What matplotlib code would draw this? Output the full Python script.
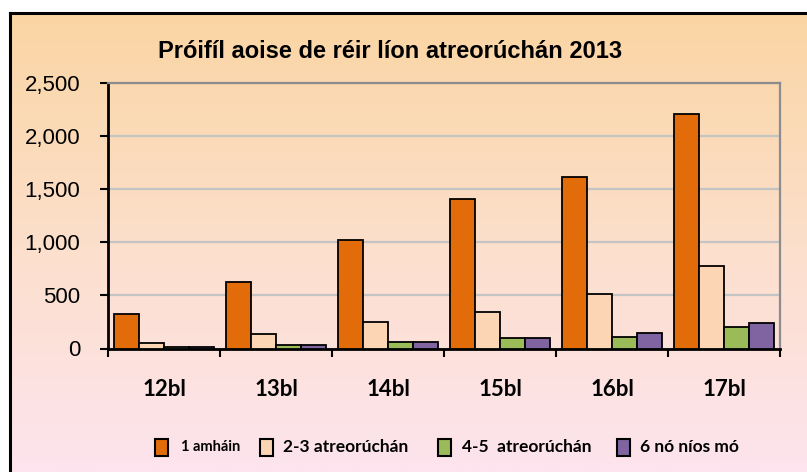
import matplotlib
matplotlib.use("Agg")
import matplotlib.pyplot as plt
import numpy as np
from matplotlib.patches import Rectangle
from matplotlib.colors import LinearSegmentedColormap

# ---- data ----
categories = ["12bl", "13bl", "14bl", "15bl", "16bl", "17bl"]
series_names = ["1 amháin", "2-3 atreorúchán", "4-5  atreorúchán", "6 nó níos mó"]
one_only = [325, 630, 1020, 1405, 1612, 2210]
two_three = [55, 132, 250, 348, 510, 779]
four_five = [15, 37, 57, 95, 107, 200]
six_plus = [14, 33, 57, 95, 146, 244]
yticks = [0, 500, 1000, 1500, 2000, 2500]
ytick_labels = ["0", "500", "1,000", "1,500", "2,000", "2,500"]
title = "Próifíl aoise de réir líon atreorúchán 2013"

colors = ["#E36C0A", "#FCD5B5", "#9BBB59", "#8064A2"]
series = [one_only, two_three, four_five, six_plus]

W, H = 807, 472
fig = plt.figure(figsize=(W / 100, H / 100), dpi=100)
fig.patch.set_facecolor("white")

def fx(px):
    return px / W

def fy(py):
    return 1 - py / H

# gradient background inside frame
bg = fig.add_axes([fx(10), 0, 1 - fx(10), fy(13)], zorder=0)
cmap = LinearSegmentedColormap.from_list("g", ["#FAD5A3", "#FCDFCB", "#FDE4EE"])
grad = np.linspace(0, 1, 256).reshape(-1, 1)
bg.imshow(grad, aspect="auto", cmap=cmap, extent=[0, 1, 0, 1], origin="upper")
bg.set_axis_off()

# frame lines (top, left)
fig.add_artist(plt.Line2D([fx(10), 1], [fy(13), fy(13)], color="black", lw=2.2, zorder=5))
fig.add_artist(plt.Line2D([fx(10), fx(10)], [0, fy(13)], color="black", lw=2.2, zorder=5))

# main axes
left, right, top, bottom = 108, 780, 83, 348.5
ax = fig.add_axes([fx(left), fy(bottom), fx(right - left), (bottom - top) / H], zorder=2)
ax.set_facecolor("none")

x = np.arange(len(categories))
bw = 0.225
offsets = (np.arange(4) - 1.5) * bw
for i, (vals, c) in enumerate(zip(series, colors)):
    ax.bar(x + offsets[i], vals, width=bw, color=c, edgecolor="black",
           linewidth=1.3, zorder=3, label=series_names[i])

ax.set_xlim(-0.5, len(categories) - 0.5)
ax.set_ylim(0, 2500)
ax.set_yticks(yticks)
ax.set_yticklabels(ytick_labels, fontfamily="Liberation Sans", fontsize=16)
ax.yaxis.grid(True, color="#C4C4C4", linewidth=1.6, zorder=0)
ax.set_axisbelow(True)

ax.set_xticks(np.arange(len(categories) + 1) - 0.5)
ax.set_xticklabels([])
ax.set_xticks(x, minor=True)
ax.set_xticklabels(categories, minor=True, fontfamily="Lato",
                   fontweight="bold", fontsize=16)
ax.tick_params(axis="x", which="minor", length=0, pad=22)
ax.tick_params(axis="x", which="major", length=6, width=1.5, direction="out")
ax.tick_params(axis="y", length=6, width=1.5, direction="out", pad=14)

for s in ["left", "bottom"]:
    ax.spines[s].set_color("black")
    ax.spines[s].set_linewidth(2)
for s in ["top", "right"]:
    ax.spines[s].set_color("#8C8C8C")
    ax.spines[s].set_linewidth(1.6)

fig.text(fx(390), fy(51), title, ha="center", va="center",
         fontfamily="Liberation Sans", fontweight="bold", fontsize=17, zorder=6)

# legend (manual)
legend_items = [
    (155, 181, 10.5),
    (260, 283, 12.5),
    (438, 462, 12.5),
    (617, 640, 12.5),
]
for (sx, tx, fs), c, name in zip(legend_items, colors, series_names):
    fig.add_artist(Rectangle((fx(sx), fy(456)), fx(13), 17 / H, transform=fig.transFigure,
                             facecolor=c, edgecolor="black", linewidth=1.5, zorder=6))
    fig.text(fx(tx), fy(447), name, ha="left", va="center", fontfamily="Lato",
             fontweight="bold", fontsize=fs, zorder=6)

fig.savefig("out.png", dpi=100)
